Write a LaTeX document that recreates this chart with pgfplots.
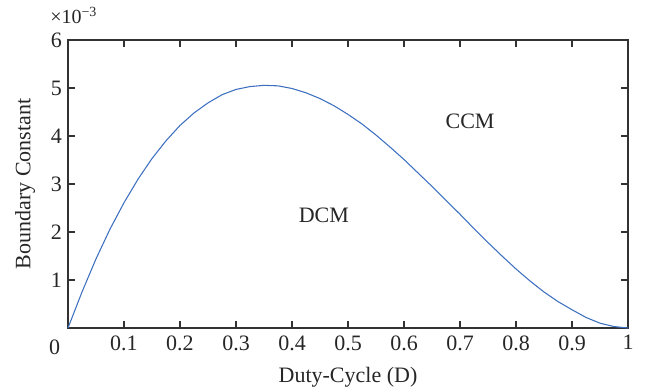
\documentclass[border=0pt]{standalone}
\usepackage{pgfplots}
\pgfplotsset{compat=1.18}
\usepackage{fontspec}
\setmainfont{Liberation Serif}
\definecolor{curve}{RGB}{62,112,192}
\definecolor{axgray}{RGB}{50,50,50}
\newcommand{\fs}{\fontsize{16.5}{19}\selectfont}
\begin{document}
\begin{tikzpicture}
\begin{axis}[
  name=ax,
  scale only axis,
  width=420pt, height=216pt,
  xmin=0, xmax=1, ymin=0, ymax=6,
  xtick={0,0.1,0.2,0.3,0.4,0.5,0.6,0.7,0.8,0.9,1},
  xticklabels={,0.1,0.2,0.3,0.4,0.5,0.6,0.7,0.8,0.9,1},
  ytick={1,2,3,4,5,6},
  tick align=inside,
  tick pos=both,
  major tick length=5pt,
  axis line style={axgray, line width=0.8pt},
  tick style={axgray, line width=0.8pt},
  ticklabel style={font=\fs, text=black!85},
  /pgf/number format/assume math mode=true,
  xticklabel style={yshift=-2pt},
  yticklabel style={xshift=-1pt},
  xlabel={Duty-Cycle (D)},
  ylabel={Boundary Constant},
  label style={font=\fs, text=black!85},
  xlabel style={yshift=-6pt},
  ylabel style={yshift=5pt},
  clip=false,
]
\addplot[curve, line width=0.8pt] coordinates {
(0,0) (0.025,0.75) (0.05,1.44) (0.075,2.06) (0.1,2.61) (0.125,3.10)
(0.15,3.53) (0.175,3.90) (0.2,4.22) (0.225,4.48) (0.25,4.69) (0.275,4.86)
(0.3,4.97) (0.325,5.03) (0.35,5.055) (0.375,5.045) (0.4,4.99) (0.425,4.90)
(0.45,4.78) (0.475,4.63) (0.5,4.45) (0.525,4.25) (0.55,4.02) (0.575,3.77)
(0.6,3.51) (0.625,3.23) (0.65,2.95) (0.675,2.66) (0.7,2.37) (0.725,2.07)
(0.75,1.78) (0.775,1.50) (0.8,1.23) (0.825,0.98) (0.85,0.75) (0.875,0.55)
(0.9,0.38) (0.925,0.22) (0.95,0.10) (0.975,0.03) (1,0)
};
\node[font=\fs, text=black!85] at (axis cs:0.718,4.30) {CCM};
\node[font=\fs, text=black!85] at (axis cs:0.457,2.35) {DCM};
\node[font=\fs, text=black!85, anchor=north] at ([xshift=-10pt,yshift=-5pt]rel axis cs:0,0) {0};
\node[font=\fontsize{15}{17}\selectfont, text=black!85, anchor=base west, inner sep=0pt] at ([xshift=-13.5pt,yshift=12.5pt]rel axis cs:0,1) {\char"00D7 10\textsuperscript{\char"2212 3}};
\end{axis}
\path (ax.south west) ++(-51pt,-47.25pt) coordinate (bl);
\path (ax.north east) ++(19.5pt,30pt) coordinate (tr);
\pgfresetboundingbox
\path (bl) rectangle (tr);
\end{tikzpicture}
\end{document}
